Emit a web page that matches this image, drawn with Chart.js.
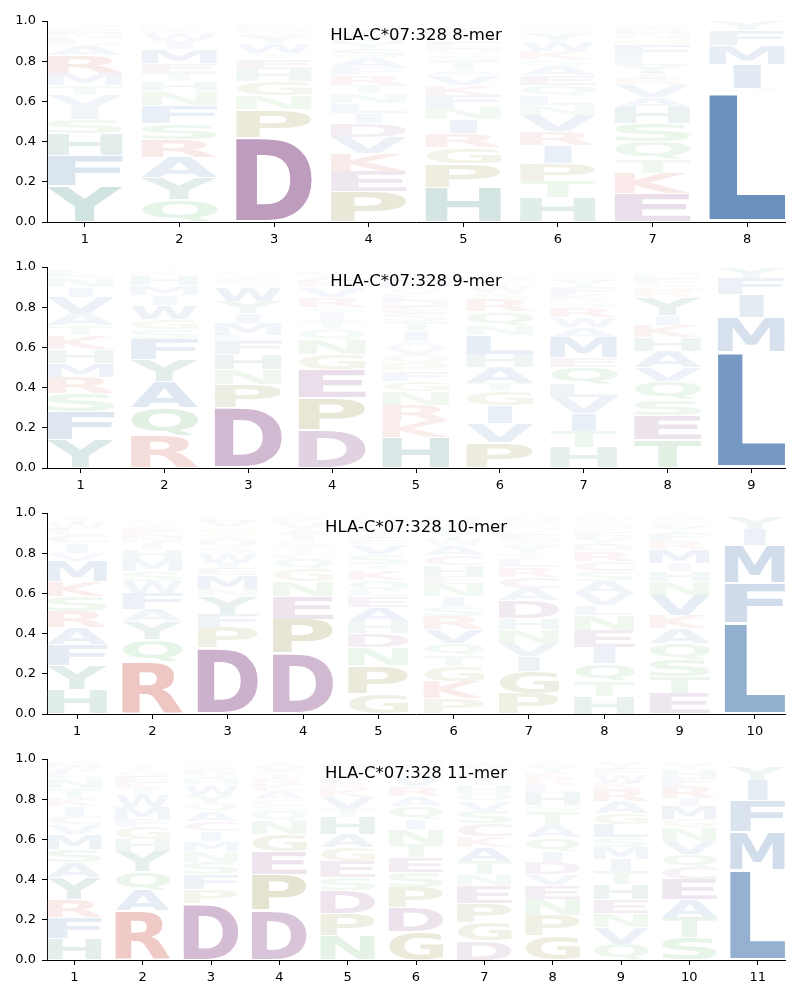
<!DOCTYPE html>
<html>
<head>
<meta charset="utf-8">
<script src="https://cdn.jsdelivr.net/npm/chart.js@4.4.0/dist/chart.umd.min.js"></script>
<style>
  body { margin: 0; background: #fff; }
  .panel { position: absolute; left: 0; width: 800px; height: 246px; }
</style>
</head>
<body>
<div class="panel" style="top:0px"><canvas id="c8" width="800" height="246"></canvas></div>
<div class="panel" style="top:246px"><canvas id="c9" width="800" height="246"></canvas></div>
<div class="panel" style="top:492px"><canvas id="c10" width="800" height="246"></canvas></div>
<div class="panel" style="top:738px"><canvas id="c11" width="800" height="246"></canvas></div>
<script>
// letters per position, bottom to top, and their heights
const pos8 = [1, 2, 3, 4, 5, 6, 7, 8];
const letters8 = ['YFHSIVTMRALNEQ', 'QYARSFNHTEMIWKL', 'DPNGHETWYSMK', 'PEKVDILNTRFASYMWQ',
  'HPGRINFKVATSQELDWY', 'HTPIRVNLQEASKWYGF', 'EKTQSHAVRIYLFGNDM', 'LVIMFY'];
const heights8 = [
  [.18, .15, .11, .07, .06, .06, .05, .06, .09, .05, .03, .03, .02, .02],
  [.11, .11, .10, .09, .08, .09, .07, .05, .04, .05, .07, .04, .04, .02, .02],
  [.42, .14, .07, .07, .06, .05, .03, .05, .04, .02, .02, .02],
  [.15, .10, .09, .08, .07, .05, .05, .05, .04, .05, .04, .05, .04, .03, .03, .03, .03],
  [.17, .12, .08, .07, .07, .06, .06, .05, .05, .03, .04, .03, .03, .03, .02, .02, .02, .02],
  [.12, .08, .09, .09, .07, .08, .05, .05, .05, .05, .05, .03, .04, .05, .04, .02, .02],
  [.14, .10, .07, .09, .09, .08, .05, .06, .03, .03, .04, .04, .06, .03, .03, .02, .02],
  [.645, .02, .12, .095, .075, .045]
];

const pos9 = [1, 2, 3, 4, 5, 6, 7, 8, 9];
const letters9 = ['YFSRMHKTAVINL', 'RQAYFSGWIMHKT', 'DPNHFLMIYWSETQ', 'DPEGNQTISRVKAL',
  'HKRNGFPQVAITSEDLYWMC', 'PVIGTAHLNQRSWYFEK', 'HTIVLQEMAWRSKFYGN', 'TESQVAHKIYRGFLN', 'LMIFY'];
const heights9 = [
  [.14, .14, .09, .08, .07, .07, .07, .05, .06, .08, .05, .05, .03],
  [.16, .14, .13, .11, .10, .05, .05, .07, .05, .05, .05, .02, .01],
  [.30, .115, .075, .075, .065, .03, .06, .05, .06, .07, .02, .02, .02, .02],
  [.19, .16, .14, .075, .075, .05, .04, .04, .03, .05, .05, .03, .03, .02],
  [.15, .08, .08, .07, .05, .05, .04, .04, .04, .03, .05, .05, .04, .03, .03, .03, .02, .02, .04, .03],
  [.125, .095, .09, .07, .04, .08, .065, .095, .05, .07, .06, .03, .03, .02, .02, .02, .02],
  [.10, .08, .09, .08, .065, .085, .05, .10, .05, .05, .05, .03, .03, .04, .03, .02, .02],
  [.14, .12, .08, .09, .07, .08, .07, .06, .05, .09, .03, .03, .03, .02, .02],
  [.58, .17, .115, .08, .055]
];

const pos10 = [1, 2, 3, 4, 5, 6, 7, 8, 9, 10];
const letters10 = ['HYFARSKMVICLWT', 'RQYAFWSMHINKETV', 'DPFYNMEIWSQTGVL', 'DPENGQCTSIAVKR',
  'GPNDHAELQKTSVFIRYM', 'PKGTQVRSINEHCAWYLFMD', 'PGIVNHDACRLTYSEKMFQ', 'HTQIENLVASCRDYFKMGW',
  'ETSQAKVNHIMRFYLGW', 'LFMIY'];
const heights10 = [
  [.12, .12, .105, .085, .08, .075, .075, .10, .04, .05, .04, .03, .03, .03],
  [.26, .11, .09, .06, .08, .06, .05, .06, .05, .03, .03, .03, .02, .02, .02],
  [.33, .10, .065, .09, .035, .07, .03, .03, .05, .03, .04, .03, .03, .03, .02],
  [.30, .17, .115, .075, .06, .05, .03, .03, .03, .03, .03, .03, .02, .02],
  [.10, .14, .09, .07, .06, .07, .055, .03, .05, .05, .03, .05, .05, .03, .03, .03, .02, .02],
  [.075, .085, .075, .055, .06, .07, .065, .05, .05, .06, .04, .055, .05, .05, .03, .03, .02, .02, .02, .02],
  [.10, .11, .075, .065, .07, .055, .09, .06, .055, .05, .04, .03, .03, .03, .03, .02, .02, .02, .03],
  [.09, .075, .085, .08, .085, .075, .05, .06, .06, .05, .05, .05, .03, .03, .03, .02, .02, .02, .02],
  [.10, .085, .085, .08, .075, .065, .10, .07, .05, .04, .07, .04, .04, .03, .02, .02, .02],
  [.455, .195, .19, .08, .06]
];

const pos11 = [1, 2, 3, 4, 5, 6, 7, 8, 9, 10, 11];
const letters11 = ['HFRYASMVCIKTNLWE', 'RAQYHGFMWIKEST', 'DPFSNMICAQYWHVEGK', 'DPEGNQSCAKRTVI',
  'NPDSEGAHTVKRFYMI', 'GDPSETNIQARVKLYH', 'DGPENTAKCSVQHILYF', 'GPNEVDIQATSHLRKYF',
  'QVNEHTIMSLGARKWFY', 'STAECQVNGMIRFHY', 'LMFIY'];
const heights11 = [
  [.105, .105, .09, .11, .075, .065, .075, .05, .04, .05, .04, .05, .05, .03, .03, .02],
  [.245, .10, .095, .10, .06, .06, .04, .06, .06, .03, .03, .03, .03, .03],
  [.28, .07, .075, .06, .055, .05, .05, .05, .05, .04, .04, .05, .03, .03, .02, .02, .02],
  [.245, .18, .115, .085, .065, .05, .03, .03, .04, .03, .03, .03, .03, .02],
  [.12, .11, .115, .065, .08, .07, .065, .085, .04, .06, .04, .03, .03, .03, .03, .02],
  [.14, .12, .10, .075, .075, .065, .075, .05, .065, .05, .05, .05, .02, .02, .02, .02],
  [.095, .09, .095, .09, .055, .065, .07, .055, .065, .06, .05, .04, .04, .03, .03, .03, .02],
  [.12, .10, .08, .07, .055, .06, .055, .07, .06, .07, .03, .06, .04, .03, .03, .03, .02],
  [.08, .08, .07, .07, .075, .065, .06, .06, .05, .065, .055, .06, .06, .03, .04, .03, .03],
  [.11, .10, .09, .10, .06, .065, .065, .07, .04, .065, .04, .06, .04, .04, .03],
  [.447, .193, .155, .10, .065]
];

// colour groups (alpha grows with letter height)
const groupRGB = {
  blue: [106, 145, 190], teal: [95, 160, 150], green: [120, 190, 125],
  olive: [165, 160, 95], red: [215, 120, 112], purple: [158, 108, 158], mauve: [175, 120, 165]
};
const letterGroup = {
  A: 'blue', F: 'blue', I: 'blue', L: 'blue', M: 'blue', V: 'blue', W: 'blue',
  H: 'teal', Y: 'teal', N: 'green', Q: 'green', S: 'green', T: 'green',
  G: 'olive', P: 'olive', K: 'red', R: 'red', D: 'purple', E: 'purple', C: 'mauve'
};
function letterColor(ch, h) {
  const c = groupRGB[letterGroup[ch]];
  const a = Math.min(1, h * 1.6);
  return 'rgba(' + c[0] + ',' + c[1] + ',' + c[2] + ',' + a.toFixed(3) + ')';
}

const FONT = 'bold 100px "DejaVu Sans"';

function logoPlugin(positions, letters, heights) {
  return {
    id: 'logo',
    beforeDatasetsDraw(chart) {
      const ctx = chart.ctx, xs = chart.scales.x, ys = chart.scales.y;
      ctx.save();
      ctx.beginPath();
      ctx.rect(chart.chartArea.left, chart.chartArea.top - 2,
        chart.chartArea.right - chart.chartArea.left, chart.chartArea.bottom - chart.chartArea.top + 2);
      ctx.clip();
      ctx.font = FONT;
      ctx.textAlign = 'left';
      ctx.textBaseline = 'alphabetic';
      positions.forEach((p, i) => {
        let lo = 0;
        const chars = letters[i], hs = heights[i];
        for (let k = 0; k < chars.length; k++) {
          const ch = chars[k], h = hs[k];
          const pad = h * 0.025;
          const yTop = ys.getPixelForValue(lo + h - pad);
          const yBot = ys.getPixelForValue(lo + pad);
          let xl = xs.getPixelForValue(p - 0.4);
          let xr = xs.getPixelForValue(p + 0.4);
          if (ch === 'I') {
            const w = (xr - xl) * 0.36, c = (xl + xr) / 2;
            xl = c - w / 2; xr = c + w / 2;
          }
          const m = ctx.measureText(ch);
          const inkW = m.actualBoundingBoxLeft + m.actualBoundingBoxRight;
          const inkH = m.actualBoundingBoxAscent + m.actualBoundingBoxDescent;
          ctx.save();
          ctx.translate(xl, yTop);
          ctx.scale((xr - xl) / inkW, (yBot - yTop) / inkH);
          ctx.fillStyle = letterColor(ch, h);
          ctx.fillText(ch, m.actualBoundingBoxLeft, m.actualBoundingBoxAscent);
          ctx.restore();
          lo += h;
        }
      });
      ctx.restore();
    }
  };
}

function titlePlugin(text) {
  return {
    id: 'paneltitle',
    afterDraw(chart) {
      const ctx = chart.ctx, a = chart.chartArea;
      ctx.save();
      ctx.font = '16.5px "DejaVu Sans"';
      ctx.fillStyle = '#000';
      ctx.textAlign = 'center';
      ctx.textBaseline = 'middle';
      ctx.fillText(text, (a.left + a.right) / 2, a.top + 15);
      ctx.restore();
    }
  };
}

function makeLogo(id, title, positions, letters, heights) {
  const totals = heights.map(h => h.reduce((s, v) => s + v, 0));
  new Chart(document.getElementById(id), {
    type: 'scatter',
    data: {
      datasets: [{
        data: positions.map((p, i) => ({ x: p, y: totals[i] })),
        pointRadius: 0, pointHoverRadius: 0
      }]
    },
    options: {
      responsive: false,
      animation: false,
      devicePixelRatio: 1,
      events: [],
      layout: { padding: { top: 21, right: 15, left: 0, bottom: 0 } },
      plugins: { legend: { display: false }, tooltip: { enabled: false } },
      scales: {
        x: {
          type: 'linear',
          min: 0.6,
          max: positions.length + 0.4,
          afterBuildTicks: s => { s.ticks = positions.map(v => ({ value: v })); },
          afterFit: s => { s.height = 24; },
          grid: { drawOnChartArea: false, color: '#000', tickLength: 5 },
          border: { color: '#000' },
          ticks: {
            color: '#000', font: { family: 'DejaVu Sans', size: 13 }, padding: 5,
            autoSkip: false, maxRotation: 0, callback: v => String(v)
          }
        },
        y: {
          min: 0,
          max: 1,
          afterFit: s => { s.width = 47; },
          grid: { drawOnChartArea: false, color: '#000', tickLength: 5 },
          border: { color: '#000' },
          ticks: {
            stepSize: 0.2, color: '#000', font: { family: 'DejaVu Sans', size: 13 }, padding: 6,
            callback: v => v.toFixed(1)
          }
        }
      }
    },
    plugins: [logoPlugin(positions, letters, heights), titlePlugin(title)]
  });
}

makeLogo('c8', 'HLA-C*07:328 8-mer', pos8, letters8, heights8);
makeLogo('c9', 'HLA-C*07:328 9-mer', pos9, letters9, heights9);
makeLogo('c10', 'HLA-C*07:328 10-mer', pos10, letters10, heights10);
makeLogo('c11', 'HLA-C*07:328 11-mer', pos11, letters11, heights11);
</script>
</body>
</html>
